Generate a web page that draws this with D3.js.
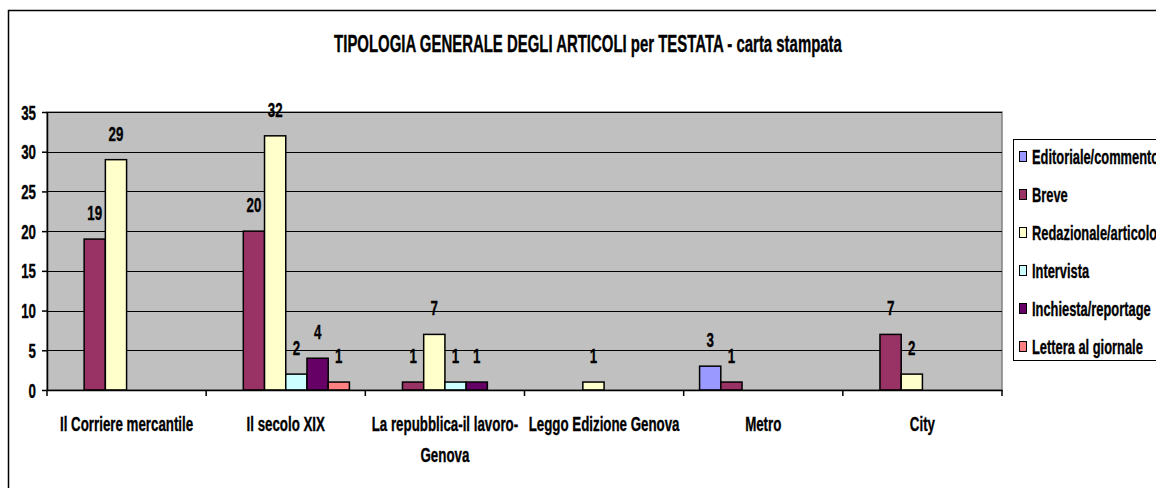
<!DOCTYPE html>
<html>
<head>
<meta charset="utf-8">
<script src="https://cdn.jsdelivr.net/npm/d3@7"></script>
<style>
  html, body { margin: 0; padding: 0; background: #fff; overflow: hidden; }
  text { font-family: "Liberation Sans", Arial, sans-serif; font-weight: bold; fill: #000; stroke: #000; stroke-width: 0.35px; }
</style>
</head>
<body>
<script>
// dati del grafico
const categories = ["Il Corriere mercantile", "Il secolo XIX", "La repubblica-il lavoro-\nGenova", "Leggo Edizione Genova", "Metro", "City"];
const seriesNames = ["Editoriale/commento", "Breve", "Redazionale/articolo", "Intervista", "Inchiesta/reportage", "Lettera al giornale"];
const editoriale = [0, 0, 0, 0, 3, 0];
const breve = [19, 20, 1, 0, 1, 7];
const redazionale = [29, 32, 7, 1, 0, 2];
const intervista = [0, 2, 1, 0, 0, 0];
const inchiesta = [0, 4, 1, 0, 0, 0];
const lettera = [0, 1, 0, 0, 0, 0];
const yTicks = [0, 5, 10, 15, 20, 25, 30, 35];
const colors = ["#9999FF", "#993366", "#FFFFCC", "#CCFFFF", "#660066", "#FF8080"];
const title = "TIPOLOGIA GENERALE DEGLI ARTICOLI per TESTATA - carta stampata";

const values = [editoriale, breve, redazionale, intervista, inchiesta, lettera];

const W = 1156, H = 488;
const plot = { left: 47, right: 1002, top: 112, bottom: 390 };
const K = 0.65; // compressione orizzontale del testo

const svg = d3.select("body").append("svg")
  .attr("width", W).attr("height", H);

// testo "stretto"
const addText = (g, x, y, str, size, anchor) =>
  g.append("text")
    .attr("transform", `translate(${x},${y}) scale(${K},1)`)
    .attr("text-anchor", anchor || "middle")
    .style("font-size", size + "px")
    .text(str);

// bordo esterno
svg.append("rect")
  .attr("x", 8.5).attr("y", 10.5)
  .attr("width", W + 20).attr("height", H + 20)
  .attr("fill", "#fff").attr("stroke", "#000").attr("stroke-width", 1.5);

// scale
const x0 = d3.scaleBand().domain(categories).range([plot.left, plot.right]);
const bw = x0.bandwidth();
const x1 = d3.scaleBand().domain(seriesNames).range([bw * 0.1, bw * 0.9]);
const y = d3.scaleLinear().domain([0, 35]).range([plot.bottom, plot.top]);

// area del grafico
svg.append("rect")
  .attr("x", plot.left).attr("y", plot.top)
  .attr("width", plot.right - plot.left).attr("height", plot.bottom - plot.top)
  .attr("fill", "#C0C0C0").attr("stroke", "#808080").attr("stroke-width", 1.5);

// griglia
svg.append("g").selectAll("line")
  .data(yTicks.filter(d => d > 0))
  .enter().append("line")
  .attr("x1", plot.left).attr("x2", plot.right)
  .attr("y1", d => Math.round(y(d)) + 0.5).attr("y2", d => Math.round(y(d)) + 0.5)
  .attr("stroke", "#000").attr("stroke-width", 1);

// asse Y
const yAxis = svg.append("g")
  .attr("transform", `translate(${plot.left},0)`)
  .call(d3.axisLeft(y).tickValues(yTicks).tickSize(5).tickSizeOuter(0).tickFormat(""));
yAxis.selectAll("path, line").attr("stroke", "#000").attr("stroke-width", 1.5);
const yLab = svg.append("g");
yTicks.forEach(t => addText(yLab, 36, y(t) + 7.5, String(t), 20.5, "end"));

// barre
const groups = svg.append("g").selectAll("g")
  .data(categories)
  .enter().append("g")
  .attr("transform", d => `translate(${x0(d)},0)`);

const cells = groups.selectAll("g.bar")
  .data((c, i) => seriesNames.map((s, j) => ({ s, j, v: values[j][i] })).filter(d => d.v > 0))
  .enter().append("g").attr("class", "bar");

cells.append("rect")
  .attr("x", d => x1(d.s))
  .attr("y", d => y(d.v))
  .attr("width", x1.bandwidth())
  .attr("height", d => y(0) - y(d.v))
  .attr("fill", d => colors[d.j])
  .attr("stroke", "#000").attr("stroke-width", 1.5);

cells.each(function (d) {
  addText(d3.select(this), x1(d.s) + x1.bandwidth() / 2, y(d.v) - 19, String(d.v), 20.5);
});

// asse X
const xAxis = svg.append("g")
  .attr("transform", `translate(0,${plot.bottom})`)
  .call(d3.axisBottom(x0).tickSize(0).tickSizeOuter(0).tickFormat(""));
xAxis.selectAll("path").attr("stroke", "#000").attr("stroke-width", 1.5);
const bounds = categories.map(c => x0(c)).concat([plot.right]);
xAxis.selectAll("line.sep")
  .data(bounds).enter().append("line").attr("class", "sep")
  .attr("x1", d => d).attr("x2", d => d)
  .attr("y1", 0).attr("y2", 6)
  .attr("stroke", "#000").attr("stroke-width", 1.5);

const xLab = svg.append("g");
categories.forEach(c => {
  c.split("\n").forEach((line, k) => {
    addText(xLab, x0(c) + bw / 2, 431 + k * 31, line, 20.5);
  });
});

// titolo
addText(svg, 588, 52, title, 23);

// legenda
const leg = svg.append("g");
leg.append("rect")
  .attr("x", 1013.5).attr("y", 139.5)
  .attr("width", 200).attr("height", 221)
  .attr("fill", "#fff").attr("stroke", "#000").attr("stroke-width", 1);
seriesNames.forEach((s, i) => {
  const cy = 157 + i * 38;
  leg.append("rect")
    .attr("x", 1019.5).attr("y", cy - 5.5)
    .attr("width", 7).attr("height", 10)
    .attr("fill", colors[i]).attr("stroke", "#000").attr("stroke-width", 1);
  addText(leg, 1032, cy + 6.5, s, 19.8, "start");
});
</script>
</body>
</html>
